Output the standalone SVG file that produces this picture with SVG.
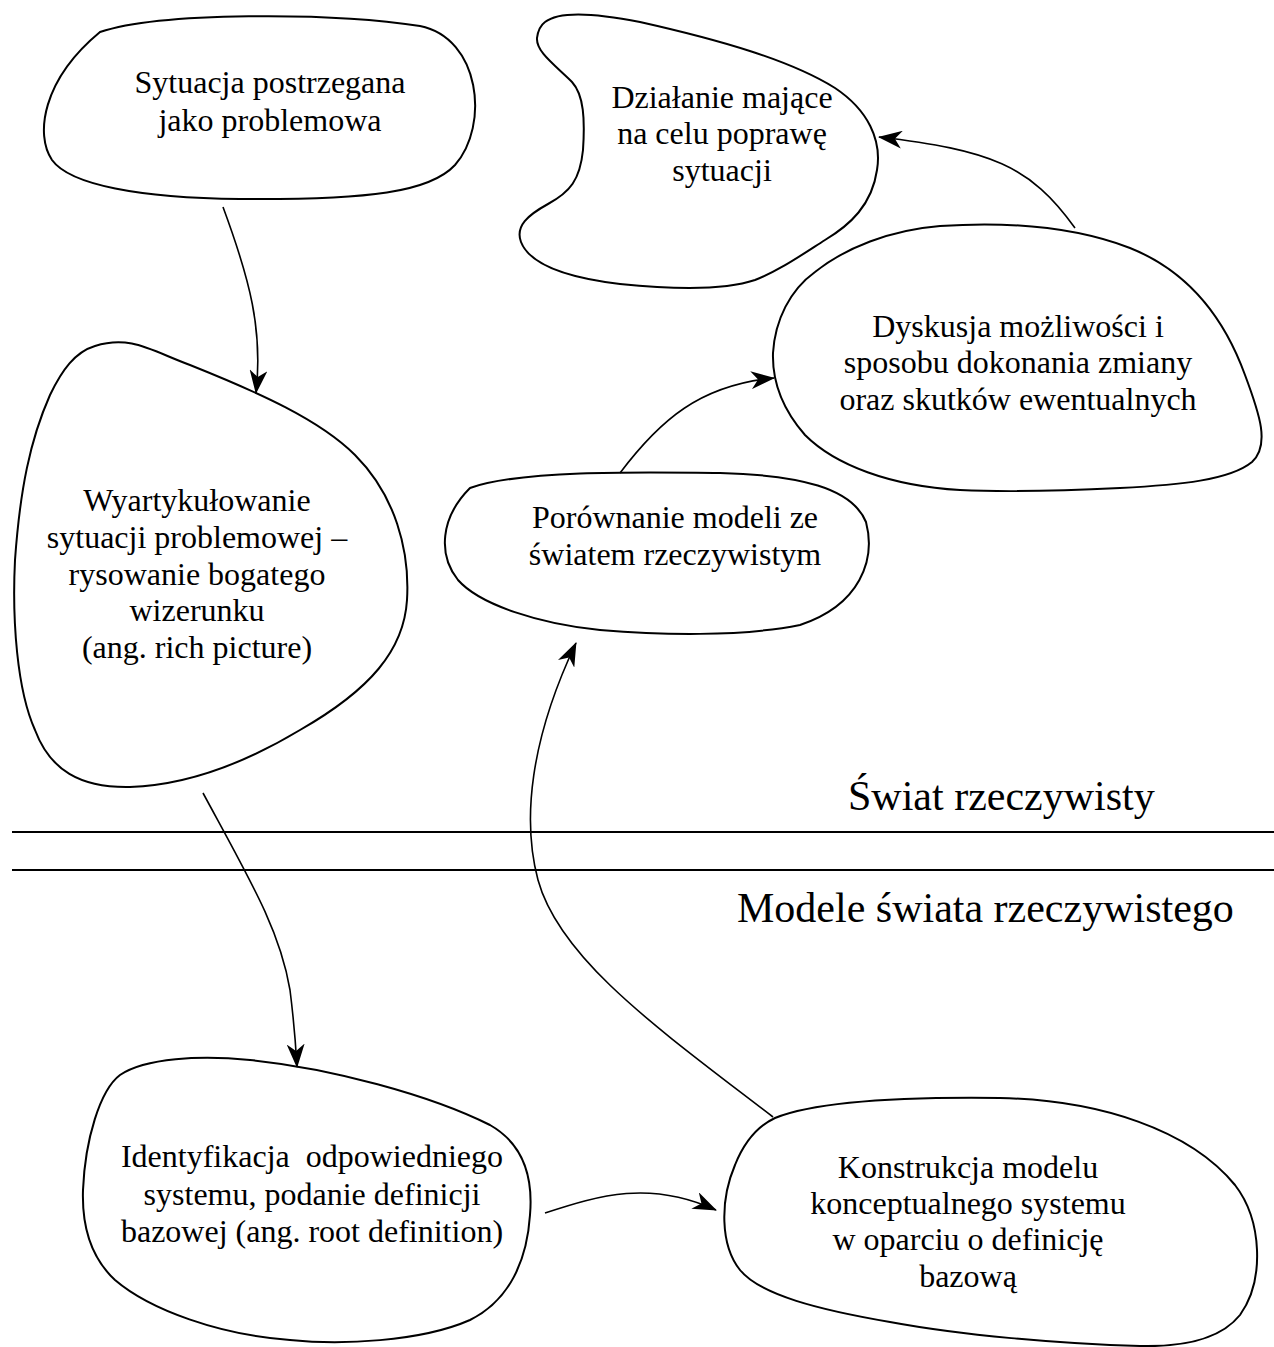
<svg xmlns="http://www.w3.org/2000/svg" width="1274" height="1347" viewBox="0 0 1274 1347">
<style>
  .blob { fill: #ffffff; stroke: #000000; stroke-width: 2; }
  .lbl { font-family: "Liberation Serif", "Times New Roman", serif; font-size: 32px; fill: #000000; text-anchor: middle; }
  .big { font-family: "Liberation Serif", "Times New Roman", serif; font-size: 42px; fill: #000000; }
  .conn { fill: none; stroke: #000000; stroke-width: 1.6; marker-end: url(#arrow); }
  .sep { stroke: #000000; stroke-width: 2; }
</style>
<defs>
  <marker id="arrow" viewBox="0 0 24 18" refX="23" refY="9" markerWidth="24" markerHeight="18" markerUnits="userSpaceOnUse" orient="auto">
    <path d="M0,0 L24,9 L0,18 L7,9 Z" fill="#000000"/>
  </marker>
</defs>
<rect width="1274" height="1347" fill="#ffffff"/>

<g id="separators">
  <line class="sep" x1="12" y1="832" x2="1274" y2="832"/>
  <line class="sep" x1="12" y1="870" x2="1274" y2="870"/>
  <text class="big" x="848" y="810">Świat rzeczywisty</text>
  <text class="big" x="737" y="922">Modele świata rzeczywistego</text>
</g>

<g id="node-sytuacja">
  <path class="blob" d="M 100,32 C 160,12 330,12 420,26 C 480,38 490,125 455,165 C 430,192 370,200 240,199 C 140,198 70,185 52,160 C 35,135 42,80 100,32 Z"/>
  <text class="lbl" x="270" y="93">Sytuacja postrzegana</text>
  <text class="lbl" x="270" y="131">jako problemowa</text>
</g>

<g id="node-dzialanie">
  <path class="blob" d="M 545,22 C 560,10 600,14 640,22 C 720,40 790,60 835,88 C 868,110 882,140 877,170 C 872,205 850,225 825,240 C 800,256 780,270 755,280 C 720,292 660,288 620,284 C 570,278 530,265 521,242 C 515,226 528,215 548,204 C 570,192 580,180 583,150 C 585,120 584,95 572,82 C 555,65 536,52 537,38 C 538,30 541,25 545,22 Z"/>
  <text class="lbl" x="722" y="108">Działanie mające</text>
  <text class="lbl" x="722" y="144">na celu poprawę</text>
  <text class="lbl" x="722" y="181">sytuacji</text>
</g>

<g id="node-wyartykulowanie">
  <path class="blob" d="M 95,346 C 130,335 150,350 190,365 C 260,393 320,420 355,455 C 395,495 410,550 407,600 C 404,650 370,690 300,730 C 250,760 190,785 130,787 C 80,788 50,770 35,730 C 17,690 12,620 15,560 C 20,490 30,440 50,395 C 62,370 75,352 95,346 Z"/>
  <text class="lbl" x="197" y="511">Wyartykułowanie</text>
  <text class="lbl" x="197" y="548">sytuacji problemowej –</text>
  <text class="lbl" x="197" y="585">rysowanie bogatego</text>
  <text class="lbl" x="197" y="621">wizerunku</text>
  <text class="lbl" x="197" y="658">(ang. rich picture)</text>
</g>

<g id="node-dyskusja">
  <path class="blob" d="M 773,353 C 775,320 790,290 815,272 C 845,248 890,230 940,226 C 1000,222 1070,225 1130,248 C 1190,272 1225,320 1245,375 C 1260,415 1270,445 1252,462 C 1230,480 1180,485 1120,488 C 1060,491 1000,492 960,490 C 890,486 835,465 805,435 C 785,412 772,385 773,353 Z"/>
  <text class="lbl" x="1018" y="337">Dyskusja możliwości i</text>
  <text class="lbl" x="1018" y="373">sposobu dokonania zmiany</text>
  <text class="lbl" x="1018" y="410">oraz skutków ewentualnych</text>
</g>

<g id="node-porownanie">
  <path class="blob" d="M 470,488 C 520,470 640,472 720,473 C 800,475 852,488 866,522 C 876,560 860,605 800,625 C 740,637 660,635 600,630 C 540,624 480,605 458,580 C 438,555 440,518 470,488 Z"/>
  <text class="lbl" x="675" y="528">Porównanie modeli ze</text>
  <text class="lbl" x="675" y="565">światem rzeczywistym</text>
</g>

<g id="node-identyfikacja">
  <path class="blob" d="M 120,1075 C 145,1058 200,1055 250,1060 C 330,1068 430,1095 490,1125 C 525,1145 533,1180 530,1215 C 527,1260 510,1300 470,1320 C 420,1342 340,1345 290,1340 C 220,1335 150,1310 115,1280 C 88,1255 82,1220 83,1190 C 85,1140 100,1090 120,1075 Z"/>
  <text class="lbl" x="312" y="1167" xml:space="preserve">Identyfikacja  odpowiedniego</text>
  <text class="lbl" x="312" y="1205">systemu, podanie definicji</text>
  <text class="lbl" x="312" y="1242">bazowej (ang. root definition)</text>
</g>

<g id="node-konstrukcja">
  <path class="blob" d="M 775,1118 C 820,1100 920,1097 1000,1098 C 1100,1100 1190,1130 1235,1185 C 1262,1220 1265,1280 1240,1315 C 1220,1340 1180,1347 1140,1346 C 1060,1344 960,1335 890,1322 C 820,1310 760,1295 740,1270 C 720,1245 720,1200 735,1165 C 745,1140 760,1125 775,1118 Z"/>
  <text class="lbl" x="968" y="1178">Konstrukcja modelu</text>
  <text class="lbl" x="968" y="1214">konceptualnego systemu</text>
  <text class="lbl" x="968" y="1250">w oparciu o definicję</text>
  <text class="lbl" x="968" y="1287">bazową</text>
</g>

<g id="connectors">
  <path class="conn" d="M 223,207 C 250,280 263,330 256,393"/>
  <path class="conn" d="M 203,793 C 250,880 280,930 290,990 C 295,1030 296,1050 297,1067"/>
  <path class="conn" d="M 545,1213 C 600,1195 650,1180 716,1210"/>
  <path class="conn" d="M 773,1117 C 660,1030 560,960 538,880 C 522,820 530,740 576,643"/>
  <path class="conn" d="M 620,473 C 660,420 700,385 774,378"/>
  <path class="conn" d="M 1075,228 C 1030,165 990,150 879,137"/>
</g>
</svg>
